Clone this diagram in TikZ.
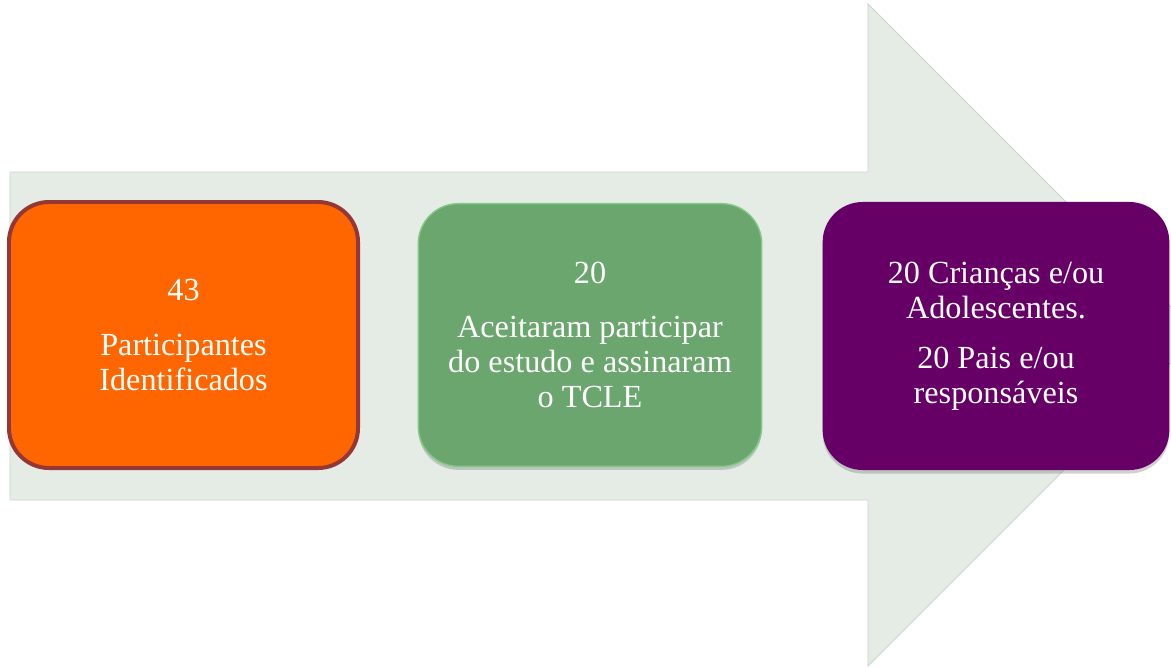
\documentclass[tikz,border=0pt]{standalone}
\usepackage{fontspec}
\setmainfont{Liberation Serif}
\usetikzlibrary{positioning,shadows}
\definecolor{arrowfill}{RGB}{228,236,229}
\definecolor{arrowedge}{RGB}{204,211,205}
\definecolor{orangefill}{RGB}{255,102,0}
\definecolor{orangeedge}{RGB}{149,55,53}
\definecolor{greenfill}{RGB}{106,166,110}
\definecolor{greenedge}{RGB}{130,200,134}
\definecolor{purplefill}{RGB}{102,0,102}
\tikzset{
  stagebox/.style={align=center,rectangle,rounded corners=1.2cm,text=white,
    inner sep=0pt,font=\fontsize{27.5}{30}\selectfont},
  softshadow/.style={drop shadow={shadow xshift=0pt,shadow yshift=-3pt,
    opacity=0.3,fill=black!60}}
}

\begin{document}
\begin{tikzpicture}[x=0.03cm,y=-0.03cm]
    \useasboundingbox (0,0) rectangle (1171,666);

    % big arrow behind the stages
    \begin{scope}
        \clip (0,0) rectangle (1171,666);
        \filldraw[fill=arrowfill, draw=arrowedge, line width=0.8pt]
            (10,172) -- (868,172) -- (868,4) -- (1199,335) -- (868,666)
            -- (868,500) -- (10,500) -- cycle;
    \end{scope}

    \node at (183.5,335) [stagebox, fill=orangefill, draw=orangeedge, line width=3.4pt,
        minimum width=10.47cm, minimum height=7.98cm] (found)
        {43\\[0.6cm] Participantes\\Identificados};
    \node at (590,335) [stagebox, fill=greenfill, draw=greenedge, line width=1.2pt,
        minimum width=10.3cm, minimum height=7.88cm, softshadow] (accepted)
        {20\\[0.55cm] Aceitaram participar\\do estudo e assinaram\\o TCLE};
    \node at (996,336) [stagebox, fill=purplefill, minimum width=10.4cm,
        minimum height=8.04cm, softshadow] (groups)
        {20 Crianças e/ou\\Adolescentes.\\[0.45cm] 20 Pais e/ou\\responsáveis};

\end{tikzpicture}
\end{document}
